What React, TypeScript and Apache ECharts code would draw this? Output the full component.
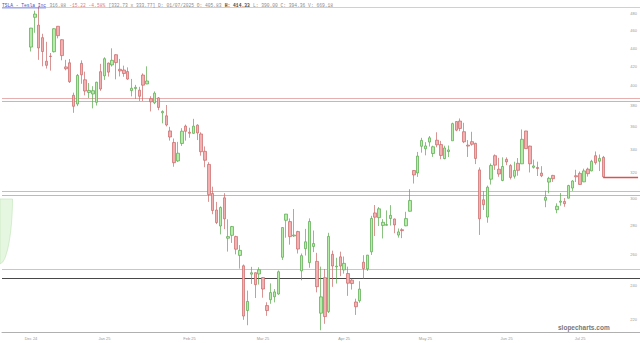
import React, { useEffect, useRef } from "react";
import * as echarts from "echarts";

// rows: [date, open, high, low, close]
const dec2024: [string, number, number, number, number][] = [
  ["2024-12-16", 441.09, 463.19, 436.15, 463.02],
  ["2024-12-17", 475.9, 483.99, 457.51, 479.86],
  ["2024-12-18", 466.5, 488.54, 427.01, 440.13],
  ["2024-12-19", 451.88, 456.36, 420.02, 436.17],
  ["2024-12-20", 425.51, 447.08, 417.64, 421.06],
  ["2024-12-23", 431.0, 434.51, 415.41, 430.6],
  ["2024-12-24", 435.9, 462.78, 435.14, 462.28],
  ["2024-12-26", 465.16, 465.33, 451.02, 454.13],
  ["2024-12-27", 449.52, 450.0, 426.5, 431.66],
  ["2024-12-30", 419.4, 427.0, 415.75, 417.41],
  ["2024-12-31", 423.79, 427.93, 402.54, 403.84],
];
const jan2025: [string, number, number, number, number][] = [
  ["2025-01-02", 390.1, 392.73, 373.04, 379.28],
  ["2025-01-03", 381.48, 411.88, 379.45, 410.44],
  ["2025-01-06", 423.2, 426.43, 401.7, 411.05],
  ["2025-01-07", 405.83, 414.33, 390.0, 394.36],
  ["2025-01-08", 392.95, 402.5, 387.4, 394.94],
  ["2025-01-10", 391.4, 399.28, 377.29, 394.74],
  ["2025-01-13", 383.21, 403.79, 380.07, 403.31],
  ["2025-01-14", 414.34, 422.64, 394.54, 396.36],
  ["2025-01-15", 409.9, 429.8, 405.66, 428.22],
  ["2025-01-16", 423.49, 424.0, 409.13, 413.82],
  ["2025-01-17", 421.5, 439.74, 419.75, 426.5],
  ["2025-01-21", 432.64, 433.2, 406.31, 424.07],
  ["2025-01-22", 416.81, 428.0, 409.3, 415.11],
  ["2025-01-23", 416.06, 420.73, 408.95, 412.38],
  ["2025-01-24", 414.45, 418.88, 405.78, 406.58],
  ["2025-01-27", 394.8, 406.69, 389.0, 397.15],
  ["2025-01-28", 396.91, 400.59, 386.5, 398.09],
  ["2025-01-29", 395.21, 398.59, 384.48, 389.1],
  ["2025-01-30", 410.78, 412.5, 384.41, 400.28],
  ["2025-01-31", 401.53, 419.99, 401.34, 404.6],
];
const feb2025: [string, number, number, number, number][] = [
  ["2025-02-03", 386.68, 389.17, 374.36, 383.68],
  ["2025-02-04", 382.63, 394.0, 381.4, 392.21],
  ["2025-02-05", 387.51, 388.39, 375.53, 378.17],
  ["2025-02-06", 373.03, 375.4, 363.18, 374.32],
  ["2025-02-07", 370.19, 380.55, 360.34, 361.62],
  ["2025-02-10", 356.21, 360.0, 347.5, 350.73],
  ["2025-02-11", 345.8, 349.37, 325.1, 328.5],
  ["2025-02-12", 329.94, 346.4, 329.12, 336.51],
  ["2025-02-13", 345.0, 358.69, 342.85, 355.94],
  ["2025-02-14", 360.62, 362.0, 347.5, 355.84],
  ["2025-02-18", 355.01, 359.1, 350.02, 354.11],
  ["2025-02-19", 354.0, 367.34, 353.67, 360.56],
  ["2025-02-20", 361.51, 362.3, 348.0, 354.4],
  ["2025-02-21", 353.44, 354.98, 334.42, 337.8],
  ["2025-02-24", 338.14, 342.4, 324.7, 330.53],
  ["2025-02-25", 327.02, 328.89, 297.25, 302.8],
  ["2025-02-26", 303.71, 309.0, 288.04, 290.8],
  ["2025-02-27", 291.16, 297.23, 280.88, 281.95],
  ["2025-02-28", 279.5, 293.88, 273.6, 292.98],
];
const mar2025: [string, number, number, number, number][] = [
  ["2025-03-03", 300.34, 303.94, 277.3, 284.65],
  ["2025-03-04", 270.93, 284.35, 261.84, 272.04],
  ["2025-03-05", 272.92, 279.55, 267.71, 279.1],
  ["2025-03-06", 272.06, 272.65, 260.02, 263.45],
  ["2025-03-07", 259.32, 266.25, 250.73, 262.67],
  ["2025-03-10", 252.54, 253.37, 220.0, 222.15],
  ["2025-03-11", 225.31, 237.06, 217.02, 230.58],
  ["2025-03-12", 247.22, 251.84, 241.1, 248.09],
  ["2025-03-13", 248.13, 248.29, 232.6, 240.68],
  ["2025-03-14", 247.31, 251.58, 240.73, 249.98],
  ["2025-03-17", 245.06, 245.4, 232.8, 238.01],
  ["2025-03-18", 228.16, 230.1, 222.28, 225.31],
  ["2025-03-19", 231.61, 241.45, 229.2, 235.86],
  ["2025-03-20", 233.34, 238.0, 230.05, 236.26],
  ["2025-03-21", 234.99, 249.52, 234.55, 248.71],
  ["2025-03-24", 258.08, 278.64, 256.33, 278.39],
  ["2025-03-25", 283.6, 288.2, 271.28, 288.14],
  ["2025-03-26", 282.66, 284.9, 266.51, 272.06],
  ["2025-03-27", 272.48, 291.85, 271.82, 273.13],
  ["2025-03-28", 275.58, 276.1, 260.57, 263.55],
  ["2025-03-31", 249.31, 260.56, 243.36, 259.16],
];
const apr2025: [string, number, number, number, number][] = [
  ["2025-04-01", 263.8, 277.45, 259.25, 268.46],
  ["2025-04-02", 254.6, 284.99, 251.27, 282.76],
  ["2025-04-03", 265.29, 276.3, 261.51, 267.28],
  ["2025-04-04", 255.38, 261.0, 236.0, 239.43],
  ["2025-04-07", 223.78, 252.0, 214.25, 233.29],
  ["2025-04-08", 245.0, 250.44, 217.8, 221.86],
  ["2025-04-09", 224.69, 274.69, 223.88, 272.2],
  ["2025-04-10", 260.0, 262.49, 239.33, 252.4],
  ["2025-04-11", 251.84, 257.74, 241.36, 252.31],
  ["2025-04-14", 258.36, 261.8, 245.93, 252.35],
  ["2025-04-15", 249.91, 258.59, 247.54, 254.11],
  ["2025-04-16", 247.61, 251.97, 233.89, 241.55],
  ["2025-04-17", 243.47, 244.34, 237.68, 241.37],
  ["2025-04-21", 230.26, 232.21, 222.79, 227.5],
  ["2025-04-22", 230.96, 242.79, 229.85, 237.97],
  ["2025-04-23", 254.86, 259.45, 244.43, 250.74],
  ["2025-04-24", 250.5, 259.54, 249.2, 259.51],
  ["2025-04-25", 261.69, 286.85, 259.63, 284.95],
  ["2025-04-28", 288.98, 294.86, 272.42, 285.88],
  ["2025-04-29", 285.5, 293.32, 279.47, 292.03],
  ["2025-04-30", 279.9, 284.45, 270.78, 282.16],
];
const may2025: [string, number, number, number, number][] = [
  ["2025-05-01", 280.01, 290.87, 279.81, 280.52],
  ["2025-05-02", 284.9, 294.78, 279.81, 287.21],
  ["2025-05-05", 284.57, 284.85, 274.4, 280.26],
  ["2025-05-06", 273.11, 277.73, 271.35, 275.35],
  ["2025-05-07", 276.88, 277.92, 271.0, 276.22],
  ["2025-05-08", 279.63, 289.8, 279.41, 284.82],
  ["2025-05-09", 290.21, 307.04, 290.0, 298.26],
  ["2025-05-12", 321.99, 322.21, 311.5, 318.38],
  ["2025-05-13", 320.0, 337.59, 316.8, 334.07],
  ["2025-05-14", 342.5, 350.0, 337.0, 347.68],
  ["2025-05-15", 340.34, 346.14, 334.72, 342.82],
  ["2025-05-16", 346.24, 351.62, 342.33, 349.98],
  ["2025-05-19", 336.3, 343.0, 333.37, 342.09],
  ["2025-05-20", 347.87, 354.99, 341.63, 343.82],
  ["2025-05-21", 344.0, 347.27, 331.39, 334.62],
  ["2025-05-22", 331.9, 343.0, 331.39, 341.04],
  ["2025-05-23", 337.92, 343.18, 333.21, 339.34],
  ["2025-05-27", 347.35, 363.79, 347.32, 362.89],
  ["2025-05-28", 364.84, 365.0, 355.91, 356.9],
  ["2025-05-29", 365.29, 367.71, 356.0, 358.43],
  ["2025-05-30", 355.52, 363.68, 345.29, 346.46],
];
const jun2025: [string, number, number, number, number][] = [
  ["2025-06-02", 343.5, 348.02, 333.33, 342.69],
  ["2025-06-03", 346.6, 355.4, 343.04, 344.27],
  ["2025-06-04", 345.1, 345.6, 327.33, 332.05],
  ["2025-06-05", 322.49, 324.55, 273.21, 284.7],
  ["2025-06-06", 298.83, 305.5, 291.14, 295.14],
  ["2025-06-09", 285.96, 309.83, 281.85, 308.58],
  ["2025-06-10", 314.94, 327.83, 310.67, 326.09],
  ["2025-06-11", 334.4, 335.5, 322.5, 326.43],
  ["2025-06-12", 323.08, 332.56, 316.86, 319.11],
  ["2025-06-13", 313.97, 332.99, 313.3, 325.31],
  ["2025-06-16", 331.29, 332.99, 326.41, 329.13],
  ["2025-06-17", 326.09, 327.26, 314.74, 316.35],
  ["2025-06-18", 317.31, 329.32, 315.45, 322.05],
  ["2025-06-20", 327.95, 332.36, 317.78, 322.16],
  ["2025-06-23", 327.54, 357.54, 327.48, 348.68],
  ["2025-06-24", 356.17, 356.26, 340.44, 340.47],
  ["2025-06-25", 342.7, 343.0, 320.4, 327.55],
  ["2025-06-26", 324.61, 331.05, 323.61, 325.78],
  ["2025-06-27", 324.51, 329.34, 317.5, 323.63],
  ["2025-06-30", 319.9, 325.58, 316.6, 317.66],
];
const jul2025: [string, number, number, number, number][] = [
  ["2025-07-01", 298.46, 305.89, 293.21, 300.71],
  ["2025-07-02", 312.63, 316.83, 303.82, 315.65],
  ["2025-07-03", 317.99, 318.45, 312.76, 315.35],
  ["2025-07-07", 291.37, 296.15, 288.77, 293.94],
  ["2025-07-08", 297.0, 304.05, 294.35, 297.81],
  ["2025-07-09", 297.55, 300.15, 293.55, 295.88],
  ["2025-07-10", 300.05, 310.48, 300.0, 309.87],
  ["2025-07-11", 307.89, 314.09, 305.65, 313.51],
  ["2025-07-14", 317.73, 322.6, 312.67, 316.9],
  ["2025-07-15", 319.68, 321.2, 310.5, 310.78],
  ["2025-07-16", 312.8, 323.5, 312.62, 321.67],
  ["2025-07-17", 323.15, 324.34, 317.06, 319.41],
  ["2025-07-18", 321.66, 330.9, 321.42, 329.65],
  ["2025-07-21", 334.4, 338.0, 326.88, 328.49],
  ["2025-07-22", 329.74, 335.41, 321.55, 332.11],
  ["2025-07-23", 333.0, 334.2, 316.0, 316.88],
];

const tickDates = ["2024-12-16", "2025-01-15", "2025-02-18", "2025-03-17", "2025-04-15", "2025-05-15", "2025-06-16", "2025-07-15"];
const tickLabels = ["Dec 24", "Jan 25", "Feb 25", "Mar 25", "Apr 25", "May 25", "Jun 25", "Jul 25"];
const priceTicks = [220, 240, 260, 280, 300, 320, 340, 360, 380, 400, 420, 440, 460, 480];
const levelPrices = [488.6, 387.4, 384.4, 305.3, 302.2, 250.6, 244.9];
const lastPrice = 316.88;

const headerName = "TSLA - Tesla Inc";
const headerLast = "316.88";
const headerChange = "-15.22 -4.58%";
const headerInfo = "[332.73 x 333.77] D: 01/07/2025 O: 405.83";
const headerHigh = "H: 414.33";
const headerRest = "L: 390.00 C: 394.36 V: 669.18";

export default function App() {
  const ref = useRef<HTMLDivElement>(null);
  useEffect(() => {
    if (!ref.current) return;
    const chart = echarts.init(ref.current, undefined, { renderer: "svg" });
    const candles = [...dec2024, ...jan2025, ...feb2025, ...mar2025, ...apr2025, ...may2025, ...jun2025, ...jul2025];
    const LEAD = 7;
    const TRAIL = 9;
    const lead = Array.from({ length: LEAD }, (_, i) => `pre${i}`);
    const trail = Array.from({ length: TRAIL }, (_, i) => `post${i}`);
    const cats = [...lead, ...candles.map((r) => r[0]), ...trail];
    const ohlc: any[] = [
      ...lead.map(() => "-"),
      ...candles.map(([, o, h, l, c]) => [o, c, l, h]),
      ...trail.map(() => "-"),
    ];
    const labelMap: Record<string, string> = {};
    tickDates.forEach((d, i) => (labelMap[d] = tickLabels[i]));
    const lastDate = candles[candles.length - 1][0];

    const levelStyles = [
      { color: "#efb3b3", width: 0.8 },
      { color: "#e29a9a", width: 0.8 },
      { color: "#a9a9a9", width: 0.8 },
      { color: "#e29a9a", width: 0.8 },
      { color: "#a9a9a9", width: 0.8 },
      { color: "#eaa5a5", width: 0.8 },
      { color: "#333333", width: 0.9 },
    ];

    const mono = "'Liberation Mono', 'DejaVu Sans Mono', monospace";
    chart.setOption({
      animation: false,
      backgroundColor: "#ffffff",
      grid: { left: 2, right: 0, top: 0, bottom: 11, containLabel: false },
      xAxis: {
        type: "category",
        data: cats,
        boundaryGap: true,
        axisLine: { lineStyle: { color: "#b0b0b0", width: 1 } },
        axisTick: { show: false },
        splitLine: { show: false },
        axisLabel: {
          interval: (_i: number, v: string) => labelMap[v] !== undefined,
          formatter: (v: string) => labelMap[v] || "",
          fontSize: 4,
          color: "#999",
          margin: 4,
          fontFamily: "'Liberation Sans', sans-serif",
        },
      },
      yAxis: {
        type: "log",
        logBase: 10,
        position: "right",
        min: 213.3,
        max: 497.4,
        axisLine: { show: false },
        axisTick: { show: false },
        splitLine: { show: false },
        axisLabel: {
          inside: true,
          margin: 3,
          fontSize: 4,
          color: "#999",
          customValues: priceTicks,
          formatter: (v: number) => String(Math.round(v)),
          fontFamily: "'Liberation Sans', sans-serif",
        },
      },
      series: [
        {
          type: "candlestick",
          data: ohlc,
          barWidth: 3,
          z: 3,
          itemStyle: {
            color: "#b5eca8",
            color0: "#f2b0b0",
            borderColor: "#58a84c",
            borderColor0: "#c96666",
            borderWidth: 0.7,
          },
          markLine: {
            silent: true,
            symbol: ["none", "none"],
            label: { show: false },
            z: 2,
            data: [
              ...levelPrices.map((p, i) => ({
                yAxis: p,
                lineStyle: { type: "solid", color: levelStyles[i].color, width: levelStyles[i].width },
              })),
              [
                { coord: [lastDate, lastPrice], lineStyle: { type: "solid", color: "#d9534f", width: 1.3 } },
                { coord: [cats[cats.length - 1], lastPrice] },
              ],
            ],
          },
        },
      ],
      graphic: [
        {
          type: "polygon",
          z: 0,
          shape: {
            points: [
              [0, 199], [12.5, 199], [12.4, 206], [12.1, 214], [11.5, 223], [10.6, 232],
              [9.3, 241], [7.5, 250], [5.0, 258], [2.8, 262], [0, 264],
            ],
          },
          style: { fill: "#e6f7e1", stroke: "#bfe3b5", lineWidth: 0.6 },
        },
        {
          type: "text",
          x: 2,
          y: 5,
          z: 10,
          style: {
            text: `{a|${headerName}} {b|${headerLast}} {c|${headerChange}} {b|${headerInfo}} {d|${headerHigh}} {b|${headerRest}}`,
            verticalAlign: "middle",
            rich: {
              a: { fill: "#3a4fc9", color: "#3a4fc9", fontSize: 4.6, fontFamily: mono },
              b: { fill: "#8a8a8a", color: "#8a8a8a", fontSize: 4.6, fontFamily: mono },
              c: { fill: "#e07a7a", color: "#e07a7a", fontSize: 4.6, fontFamily: mono },
              d: { fill: "#444", color: "#444", fontSize: 4.6, fontFamily: mono, fontWeight: "bold" },
            },
          },
        },
        {
          type: "line",
          z: 10,
          shape: { x1: 2, y1: 8, x2: 46, y2: 8 },
          style: { stroke: "#3a4fc9", lineWidth: 0.5 },
        },
        {
          type: "text",
          x: 558,
          y: 327,
          z: 10,
          style: {
            text: "slopecharts.com",
            verticalAlign: "middle",
            fill: "#777",
            fontSize: 6.5,
            fontWeight: "bold",
            fontFamily: "'Liberation Sans', Arial, sans-serif",
          },
        },
      ],
    });
    return () => chart.dispose();
  }, []);
  return (
    <div
      ref={ref}
      style={{ position: "fixed", left: 0, top: 0, width: 640, height: 343, background: "#fff" }}
    />
  );
}
